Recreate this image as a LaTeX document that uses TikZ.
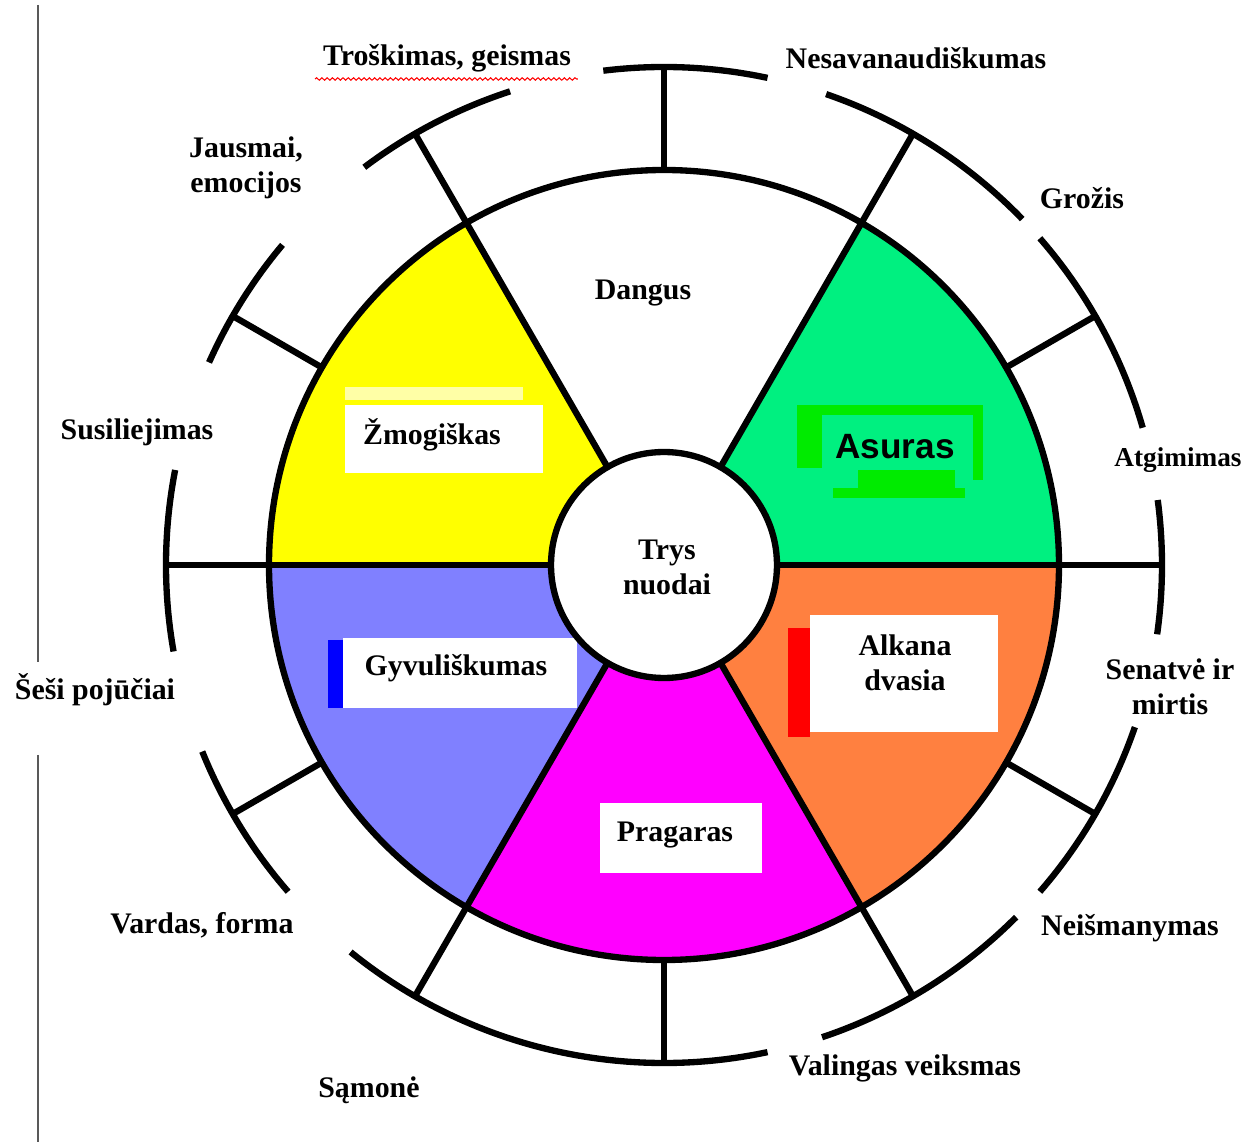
\documentclass[tikz,border=0pt]{standalone}
\usepackage{fontspec}
\setmainfont{Liberation Serif}
\newfontfamily\asurasfont{Liberation Sans}
\usetikzlibrary{decorations.pathmorphing}
\definecolor{zmogus}{RGB}{255,255,0}
\definecolor{asura}{RGB}{0,240,128}
\definecolor{asurabox}{RGB}{0,235,0}
\definecolor{alkana}{RGB}{255,128,64}
\definecolor{pragaras}{RGB}{255,0,255}
\definecolor{gyvulys}{RGB}{128,128,255}

\begin{document}
\begin{tikzpicture}[x=0.02cm,y=0.02cm,
    lbl/.style={font=\bfseries\fontsize{17}{20}\selectfont, align=center, inner sep=0pt},
    wheel/.style={line width=3.6pt},
    whitebox/.style={fill=white}]
\useasboundingbox (-664,-577) rectangle (590,565);
% 			\node at (0,0) {$B$};
			\fill[zmogus] (0,0) -- (120:395) arc (120:180:395) -- cycle;
			\fill[gyvulys] (0,0) -- (180:395) arc (180:240:395) -- cycle;
			\fill[pragaras] (0,0) -- (240:395) arc (240:300:395) -- cycle;
			\fill[alkana] (0,0) -- (300:395) arc (300:360:395) -- cycle;
			\fill[asura] (0,0) -- (0:395) arc (0:60:395) -- cycle;

			\fill[zmogus!35] (-319,178) rectangle (-141,165);
			\fill[whitebox] (-319,160) rectangle (-121,92);
			\begin{scope}[asurabox]
			\fill (133,160) rectangle (319,150);
			\fill (133,160) rectangle (158,97);
			\fill (309,160) rectangle (319,85);
			\fill (194,95) rectangle (291,75);
			\fill (169,77) rectangle (301,67);
			\end{scope}
			\fill[blue] (-336,-75) rectangle (-321,-143);
			\fill[whitebox] (-321,-73) rectangle (-87,-143);
			\fill[red] (124,-63) rectangle (146,-172);
			\fill[whitebox] (146,-50) rectangle (334,-167);
			\fill[whitebox] (-64,-238) rectangle (98,-308);

			\begin{scope}[wheel]
			\draw (0,0) circle (395);
			\foreach \a in {0,60,...,300}
			\draw (\a:113) -- (\a:498);
			\foreach \a in {30,90,...,330}
			\draw (\a:395) -- (\a:498);
			\foreach \s/\e in {78/97,44/71,16/41,-8/7.5,-41/-19,-71.5/-45,-129/-78,202/221,169/190,140/156,108/127}
			\draw (\s:498) arc (\s:\e:498);
			\draw[fill=white] (0,0) circle (113);
			\end{scope}

			\draw[gray!70!black, line width=1.2pt] (-626,560) -- (-626,-97);
			\draw[gray!70!black, line width=1.2pt] (-626,-190) -- (-626,-577);

			\node[lbl] (troskimas) at (-217,507) {Troškimas, geismas};
			\draw[red, line width=0.6pt, decorate, decoration={snake, amplitude=0.7pt, segment length=3pt}] (-349,486) -- (-86,486);
			\node[lbl] (nesavanaud) at (252,507) {Nesavanaudiškumas};
			\node[lbl] (jausmai) at (-418,397) {Jausmai,\\emocijos};
			\node[lbl] (grozis) at (418,367) {Grožis};
			\node[lbl] (susiliejimas) at (-527,133) {Susiliejimas};
			\node[lbl, font=\bfseries\fontsize{15.5}{18}\selectfont] (atgimimas) at (514,105) {Atgimimas};
			\node[lbl] (pojuciai) at (-569,-125) {Šeši pojūčiai};
			\node[lbl] (senatve) at (506,-122) {Senatvė ir\\mirtis};
			\node[lbl] (vardas) at (-462,-360) {Vardas, forma};
			\node[lbl] (neismanymas) at (466,-363) {Neišmanymas};
			\node[lbl] (samone) at (-295,-525) {Sąmonė};
			\node[lbl] (valingas) at (241,-503) {Valingas veiksmas};

			\node[lbl] (dangus) at (-21,272) {Dangus};
			\node[lbl] (zmogiskas) at (-232,130) {Žmogiškas};
			\node[lbl, font=\asurasfont\bfseries\fontsize{20}{22}\selectfont] (asuras) at (231,118) {Asuras};
			\node[lbl] (gyvuliskumas) at (-208,-103) {Gyvuliškumas};
			\node[lbl] (alkana) at (241,-98) {Alkana\\dvasia};
			\node[lbl] (pragaras) at (11,-270) {Pragaras};
			\node[lbl] (nuodai) at (3,-2) {Trys\\nuodai};
\end{tikzpicture}
\end{document}
